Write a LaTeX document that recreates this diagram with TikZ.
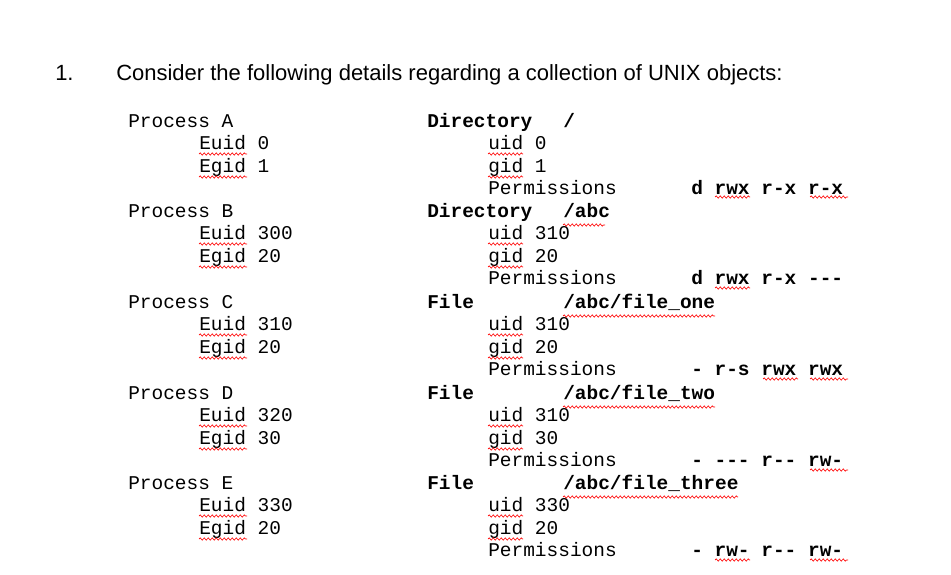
\documentclass[tikz,border=0pt]{standalone}
\usepackage{fontspec}
\setmainfont{Liberation Sans}
\newfontfamily\cour{Liberation Mono}
\usetikzlibrary{decorations.pathmorphing}
\begin{document}
\begin{tikzpicture}[x=0.75pt,y=-0.75pt,
  tt/.style={anchor=base west,inner sep=0pt,font=\cour\fontsize{14.6pt}{16pt}\selectfont},
  tb/.style={tt,font=\cour\bfseries\fontsize{14.6pt}{16pt}\selectfont},
  ti/.style={anchor=base west,inner sep=0pt,font=\fontsize{16.5pt}{19pt}\selectfont},
  squig/.style={red,line width=0.5pt,decorate,decoration={snake,amplitude=0.8pt,segment length=3pt}}]
\fill[white] (0,0) rectangle (951,575);
\node[ti] (num) at (55,80) {1.};
\node[ti] (title) at (116,80) {Consider the following details regarding a collection of UNIX objects:};
% left column
\foreach \n/\y/\e/\g in {A/121/0/1, B/211/300/20, C/302/310/20, D/393/320/30, E/483/330/20}{
  \node[tt] (p\n) at (128,\y+6) {Process \n};
  \node[tt] (eu\n) at (199,\y+28) {Euid \e};
  \node[tt] (eg\n) at (199,\y+51) {Egid \g};
  \draw[squig] (199,\y+33) -- (247,\y+33);
  \draw[squig] (199,\y+56) -- (247,\y+56);
}
% right column
\foreach \k/\y/\kind/\name/\u/\g/\p in {
  1/121/Directory/{/}/0/1/{d rwx r-x r-x},
  2/211/Directory/{/abc}/310/20/{d rwx r-x ---},
  3/302/File/{/abc/file\_one}/310/20/{- r-s rwx rwx},
  4/393/File/{/abc/file\_two}/310/30/{- --- r-- rw-},
  5/483/File/{/abc/file\_three}/330/20/{- rw- r-- rw-}}{
  \node[tb] (k\k) at (427,\y+6) {\kind};
  \node[tb] (n\k) at (563,\y+6) {\name};
  \node[tt] (u\k) at (488,\y+28) {uid \u};
  \node[tt] (g\k) at (488,\y+51) {gid \g};
  \node[tt] (pm\k) at (488,\y+73) {Permissions};
  \node[tb] (pv\k) at (691,\y+73) {\p};
  \draw[squig] (488,\y+33) -- (523,\y+33);
  \draw[squig] (488,\y+56) -- (523,\y+56);
}
\draw[squig] (563,316) -- (715,316);
\draw[squig] (563,407) -- (715,407);
\draw[squig] (563,497) -- (738,497);
\draw[squig] (563,225) -- (605,225);
\foreach \a/\b/\y in {715/750/197, 810/848/197, 715/750/288, 763/798/379, 810/848/379, 810/848/470, 715/750/560, 810/848/560}
  \draw[squig] (\a,\y) -- (\b,\y);
\end{tikzpicture}
\end{document}
